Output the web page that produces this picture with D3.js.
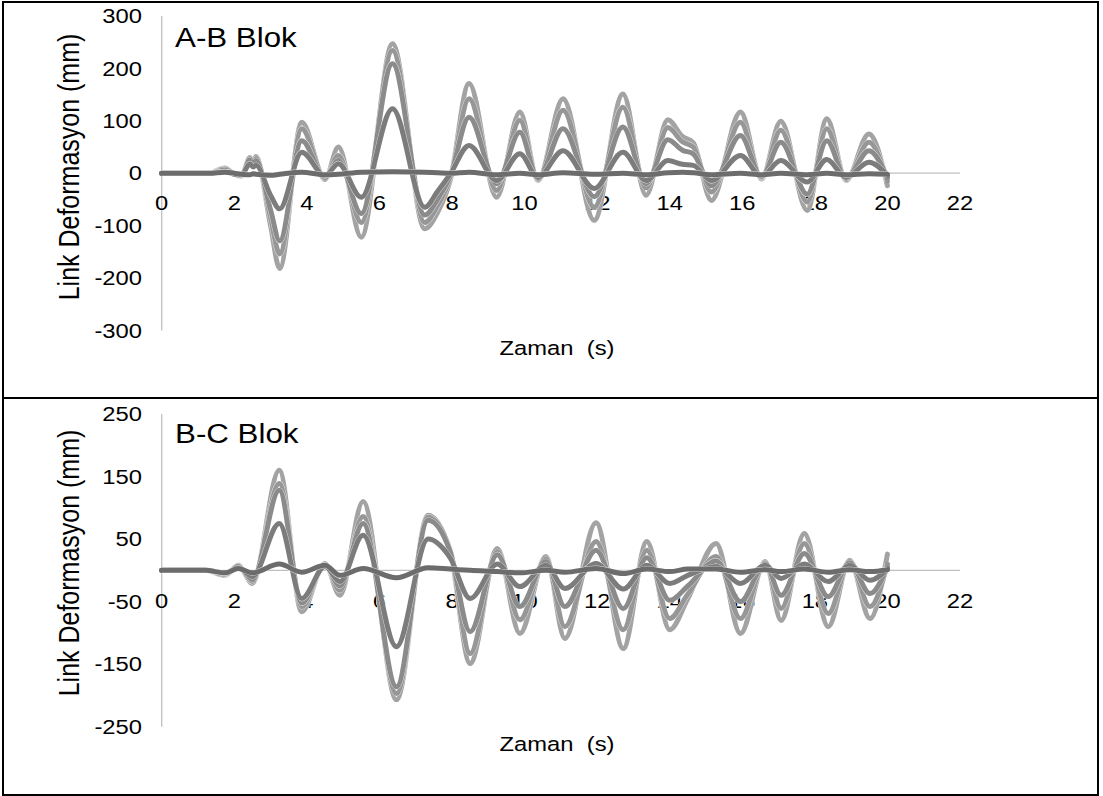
<!DOCTYPE html>
<html>
<head>
<meta charset="utf-8">
<script src="https://cdn.jsdelivr.net/npm/d3@7"></script>
<style>
  body { margin: 0; background: #fff; }
  svg { display: block; }
  text { font-family: "Liberation Sans", Arial, sans-serif; fill: #000; }
</style>
</head>
<body>
<svg id="chart" width="1103" height="796"></svg>
<script>
// ---- shared axis ticks ----
const xTicks = [0, 2, 4, 6, 8, 10, 12, 14, 16, 18, 20, 22];
const abTicks = [-300, -200, -100, 0, 100, 200, 300];
const bcTicks = [-250, -150, -50, 50, 150, 250];

// ---- A-B block link deformation (mm), sampled at the turning points ----
const abTime = [0, 1.3, 1.74, 2.0, 2.2, 2.43, 2.52, 2.6, 3.0, 3.25, 3.86, 4.5, 4.87, 5.5, 6.36, 7.25, 7.6, 7.95,
  8.47, 9.23, 9.87, 10.37, 11.06, 11.92, 12.71, 13.35, 13.95, 14.35, 14.65, 15.15, 15.95, 16.53, 17.06, 17.79,
  18.33, 18.86, 19.49, 20.0];
const abRun1 = [0, 0, 10, -2, -6, 30, 22, 32, -100, -182, 97, -12, 50, -122, 247, -106, -75, -14,
  171, -46, 117, -14, 142, -90, 151, -42, 102, 70, 58, -52, 117, -11, 99, -71, 104, -14, 75, -24];
const abRun2 = [0, 0, 8, -2, -5, 28, 20, 28, -85, -154, 85, -10, 34, -94, 234, -94, -62, -10,
  142, -33, 101, -12, 120, -65, 126, -28, 87, 60, 50, -36, 97, -9, 82, -55, 85, -12, 59, -15];
const abRun3 = [0, 0, 6, -2, -4, 25, 18, 24, -70, -129, 62, -8, 24, -77, 209, -80, -50, -6,
  107, -20, 78, -10, 85, -45, 88, -20, 64, 44, 37, -24, 72, -7, 59, -40, 62, -10, 43, -8];
const abRun4 = [0, 0, 3, -2, -3, 18, 12, 15, -42, -68, 40, -5, 18, -46, 123, -65, -35, -2,
  53, -14, 37, -8, 43, -29, 40, -14, 24, 17, 15, -14, 34, -6, 24, -17, 26, -8, 21, -4];
const abRun5 = [0, 0, 2, 0, -2, -3, -1, -2, -4, -2, 2, -3, -2, 2, 3, 2, 1, 0,
  2, -3, 0, -3, 1, -2, 0, -3, 1, 2, 1, -3, 0, -3, 0, -3, 0, -3, -1, -2];

// ---- B-C block link deformation (mm), sampled at the turning points ----
const bcTime = [0, 1.2, 1.75, 2.11, 2.5, 3.24, 3.86, 4.5, 4.91, 5.55, 6.47, 7.34, 7.95, 8.5, 9.25, 9.87,
  10.59, 11.11, 11.97, 12.72, 13.37, 14.0, 14.5, 15.28, 15.95, 16.63, 17.07, 17.71, 18.37, 18.96, 19.52, 20.0];
const bcRun1 = [0, 0, -8, 8, -21, 160, -66, 11, -40, 110, -207, 88, 30, -149, 35, -101,
  22, -109, 76, -125, 46, -95, -45, 43, -101, 14, -80, 59, -90, 16, -77, 26];
const bcRun2 = [0, 0, -7, 7, -18, 139, -58, 9, -32, 86, -197, 85, 32, -133, 30, -79,
  18, -90, 46, -95, 32, -77, -38, 22, -77, 12, -61, 43, -69, 14, -58, 10];
const bcRun3 = [0, 0, -6, 6, -15, 128, -52, 8, -25, 75, -186, 80, 30, -98, 25, -58,
  14, -58, 32, -61, 20, -48, -25, 15, -50, 10, -40, 27, -42, 12, -37, 5];
const bcRun4 = [0, 0, -4, 4, -10, 75, -45, 6, -18, 56, -122, 50, 20, -45, 10, -26,
  8, -29, 11, -30, 8, -21, -8, 6, -21, 8, -13, 10, -18, 8, -16, 2];
const bcRun5 = [0, 0, -4, 3, -4, 10, -3, 8, -8, 3, -12, 4, 2, 0, -2, -4,
  0, -3, 3, -5, 2, -2, 2, 2, -3, 1, -2, 2, -3, 1, -2, 1];

// stroke shades, lightest (largest response) drawn first
const runColors = ["#a3a3a3", "#979797", "#8b8b8b", "#7c7c7c", "#6c6c6c"];

const panels = [
  { title: "A-B Blok", top: 2, height: 396, time: abTime,
    runs: [abRun1, abRun2, abRun3, abRun4, abRun5],
    domain: [-300, 300], range: [330.4, 16], ticks: abTicks },
  { title: "B-C Blok", top: 398, height: 397, time: bcTime,
    runs: [bcRun1, bcRun2, bcRun3, bcRun4, bcRun5],
    domain: [-250, 250], range: [726.7, 414], ticks: bcTicks }
];

const svg = d3.select("#chart");
const stretch = 1.16;
const x = d3.scaleLinear().domain([0, 22]).range([161.7, 960]);

panels.forEach(p => {
  const g = svg.append("g");
  const y = d3.scaleLinear().domain(p.domain).range(p.range);
  const y0 = y(0);

  // frame
  g.append("rect").attr("x", 3).attr("y", p.top).attr("width", 1095).attr("height", p.height)
    .attr("fill", "none").attr("stroke", "#000").attr("stroke-width", 2);

  // axis lines
  g.append("line").attr("x1", x(0)).attr("x2", x(0)).attr("y1", y(p.domain[1])).attr("y2", y(p.domain[0]))
    .attr("stroke", "#c0c0c0").attr("stroke-width", 1.3);
  g.append("line").attr("x1", x(0)).attr("x2", x(22)).attr("y1", y0).attr("y2", y0)
    .attr("stroke", "#c0c0c0").attr("stroke-width", 1.3);

  // y tick labels
  g.selectAll(".ytick").data(p.ticks).enter().append("text")
    .attr("transform", d => `translate(142,${y(d)}) scale(${stretch},1)`)
    .attr("text-anchor", "end").attr("dy", "0.35em").attr("font-size", 20.5)
    .text(d => d);

  // x tick labels
  g.selectAll(".xtick").data(xTicks).enter().append("text")
    .attr("transform", d => `translate(${x(d)},${y0 + 30}) scale(${stretch},1)`)
    .attr("text-anchor", "middle").attr("dy", "0.35em").attr("font-size", 20.5)
    .text(d => d);

  // axis titles
  g.append("text")
    .attr("transform", `translate(557,${p.top + 346}) scale(${stretch},1)`)
    .attr("text-anchor", "middle").attr("dy", "0.35em").attr("font-size", 20.5)
    .attr("xml:space", "preserve")
    .text("Zaman  (s)");
  g.append("text")
    .attr("transform", `translate(69,${p.top + 165}) scale(${stretch},1) rotate(-90)`)
    .attr("text-anchor", "middle").attr("dy", "0.35em").attr("font-size", 25)
    .text("Link Deformasyon (mm)");

  // panel caption
  g.append("text")
    .attr("transform", `translate(175,${p.top + 36}) scale(${stretch},1)`)
    .attr("dy", "0.35em").attr("font-size", 27)
    .text(p.title);

  // series
  const line = d3.line().x((d, i) => x(p.time[i])).y(d => y(d)).curve(d3.curveMonotoneX);
  p.runs.forEach((run, k) => {
    g.append("path").attr("d", line(run)).attr("fill", "none")
      .attr("stroke", "#fff").attr("stroke-opacity", 0.75).attr("stroke-width", 5.8)
      .attr("stroke-linejoin", "round");
    g.append("path").attr("d", line(run)).attr("fill", "none")
      .attr("stroke", runColors[k]).attr("stroke-width", 5).attr("stroke-linejoin", "round")
      .attr("stroke-linecap", "round");
  });
});
</script>
</body>
</html>
